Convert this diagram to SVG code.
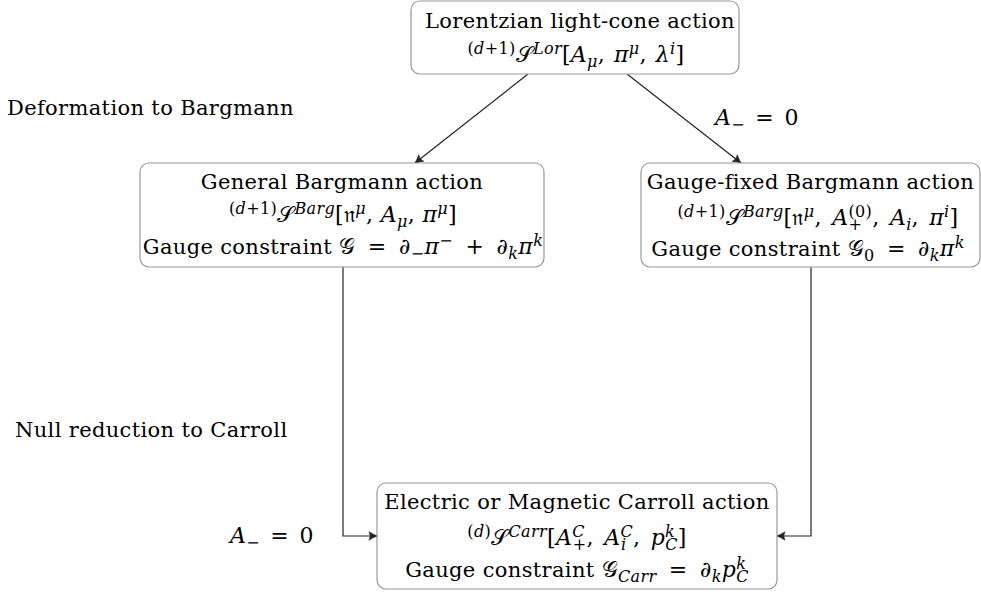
<svg xmlns="http://www.w3.org/2000/svg" width="981" height="594" viewBox="0 0 981 594" font-family="DejaVu Serif, Liberation Serif, serif">
<style>
.t{font-size:21px;letter-spacing:0.35px;fill:#000}
.m{font-size:22px}
.c{text-anchor:middle}
.i{font-style:italic}
.sp{font-size:16px;baseline-shift:8.5px}
.sb{font-size:16px;baseline-shift:-4.5px}
.cal{font-style:normal}
.box{fill:#fff;stroke:#999;stroke-width:1.2}
.ln{fill:none;stroke:#222;stroke-width:1.2}
</style>
<defs>
<marker id="arr" markerUnits="userSpaceOnUse" viewBox="-10 -6 12 12" refX="0" refY="0" markerWidth="12" markerHeight="12" orient="auto">
<path d="M0,0 Q-4,-1.6 -8,-4.2 Q-5.6,0 -8,4.2 Q-4,1.6 0,0 Z" fill="#222" stroke="#222" stroke-width="0.6" stroke-linejoin="round"/>
</marker>
</defs>

<g id="connectors">
<line class="ln" x1="528" y1="74" x2="415" y2="163" marker-end="url(#arr)"/>
<line class="ln" x1="627" y1="74" x2="741" y2="163" marker-end="url(#arr)"/>
<path class="ln" d="M343,267 V536 H377" marker-end="url(#arr)"/>
<path class="ln" d="M811,267 V536 H777" marker-end="url(#arr)"/>
</g>

<g id="labels">
<text class="t" x="7" y="115">Deformation to Bargmann</text>
<text class="t" x="15" y="437">Null reduction to Carroll</text>
<text class="t m" x="715" y="125"><tspan class="i">A</tspan><tspan class="sb">−</tspan><tspan dx="3"> = </tspan><tspan dx="3">0</tspan></text>
<text class="t m" x="230" y="543"><tspan class="i">A</tspan><tspan class="sb">−</tspan><tspan dx="3"> = </tspan><tspan dx="3">0</tspan></text>
</g>

<g id="lorentzian">
<rect class="box" x="411" y="1" width="328" height="73" rx="9"/>
<text class="t c" x="580" y="28">Lorentzian light-cone action</text>
<text class="t m c" x="576" y="62"><tspan class="sp">(<tspan class="i">d</tspan>+1)</tspan><tspan class="cal">𝒮</tspan><tspan class="sp i">Lor</tspan>[<tspan class="i">A</tspan><tspan class="sb i">μ</tspan>,<tspan dx="1.5"> </tspan><tspan class="i">π</tspan><tspan class="sp i">μ</tspan>,<tspan dx="1.5"> </tspan><tspan class="i">λ</tspan><tspan class="sp i">i</tspan>]</text>
</g>

<g id="general-bargmann">
<rect class="box" x="140" y="163" width="404" height="104" rx="9"/>
<text class="t c" x="342" y="189">General Bargmann action</text>
<text class="t m c" x="343" y="222"><tspan class="sp">(<tspan class="i">d</tspan>+1)</tspan><tspan class="cal">𝒮</tspan><tspan class="sp i">Barg</tspan>[<tspan class="cal">𝔫</tspan><tspan class="sp i">μ</tspan>, <tspan class="i">A</tspan><tspan class="sb i">μ</tspan>, <tspan class="i">π</tspan><tspan class="sp i">μ</tspan>]</text>
<text class="t c" x="343" y="254">Gauge constraint <tspan class="m"><tspan class="cal">𝒢</tspan><tspan dx="5"> = </tspan><tspan dx="5">∂</tspan><tspan class="sb">−</tspan><tspan class="i">π</tspan><tspan class="sp">−</tspan><tspan dx="5"> + </tspan><tspan dx="5">∂</tspan><tspan class="sb i">k</tspan><tspan class="i">π</tspan><tspan class="sp i">k</tspan></tspan></text>
</g>

<g id="gauge-fixed-bargmann">
<rect class="box" x="641" y="163" width="339" height="104" rx="9"/>
<text class="t c" x="810.5" y="189">Gauge-fixed Bargmann action</text>
<text class="t m c" x="818" y="225"><tspan class="sp">(<tspan class="i">d</tspan>+1)</tspan><tspan class="cal">𝒮</tspan><tspan class="sp i">Barg</tspan>[<tspan class="cal">𝔫</tspan><tspan class="sp i">μ</tspan>,<tspan dx="3"> </tspan><tspan class="i">A</tspan><tspan class="sp">(0)</tspan><tspan class="sb" dx="-23.7">+</tspan><tspan dx="9.9">,</tspan><tspan dx="3"> </tspan><tspan class="i">A</tspan><tspan class="sb i">i</tspan>,<tspan dx="3"> </tspan><tspan class="i">π</tspan><tspan class="sp i">i</tspan>]</text>
<text class="t c" x="808" y="256">Gauge constraint <tspan class="m"><tspan class="cal">𝒢</tspan><tspan class="sb">0</tspan><tspan dx="5"> = </tspan><tspan dx="5">∂</tspan><tspan class="sb i">k</tspan><tspan class="i">π</tspan><tspan class="sp i">k</tspan></tspan></text>
</g>

<g id="carroll">
<rect class="box" x="377" y="483" width="400" height="106" rx="9"/>
<text class="t c" x="577" y="509">Electric or Magnetic Carroll action</text>
<text class="t m c" x="577" y="545"><tspan class="sp">(<tspan class="i">d</tspan>)</tspan><tspan class="cal">𝒮</tspan><tspan class="sp i">Carr</tspan>[<tspan class="i">A</tspan><tspan class="sp i">C</tspan><tspan class="sb" dx="-12">+</tspan>,<tspan dx="3"> </tspan><tspan class="i">A</tspan><tspan class="sp i">C</tspan><tspan class="sb i" dx="-12">i</tspan><tspan dx="6.5">,</tspan><tspan dx="3"> </tspan><tspan class="i">p</tspan><tspan class="sp i">k</tspan><tspan class="sb i" dx="-10">C</tspan>]</text>
<text class="t c" x="577" y="577">Gauge constraint <tspan class="m"><tspan class="cal">𝒢</tspan><tspan class="sb i">Carr</tspan><tspan dx="5"> = </tspan><tspan dx="5">∂</tspan><tspan class="sb i">k</tspan><tspan class="i">p</tspan><tspan class="sp i">k</tspan><tspan class="sb i" dx="-10">C</tspan></tspan></text>
</g>
</svg>
